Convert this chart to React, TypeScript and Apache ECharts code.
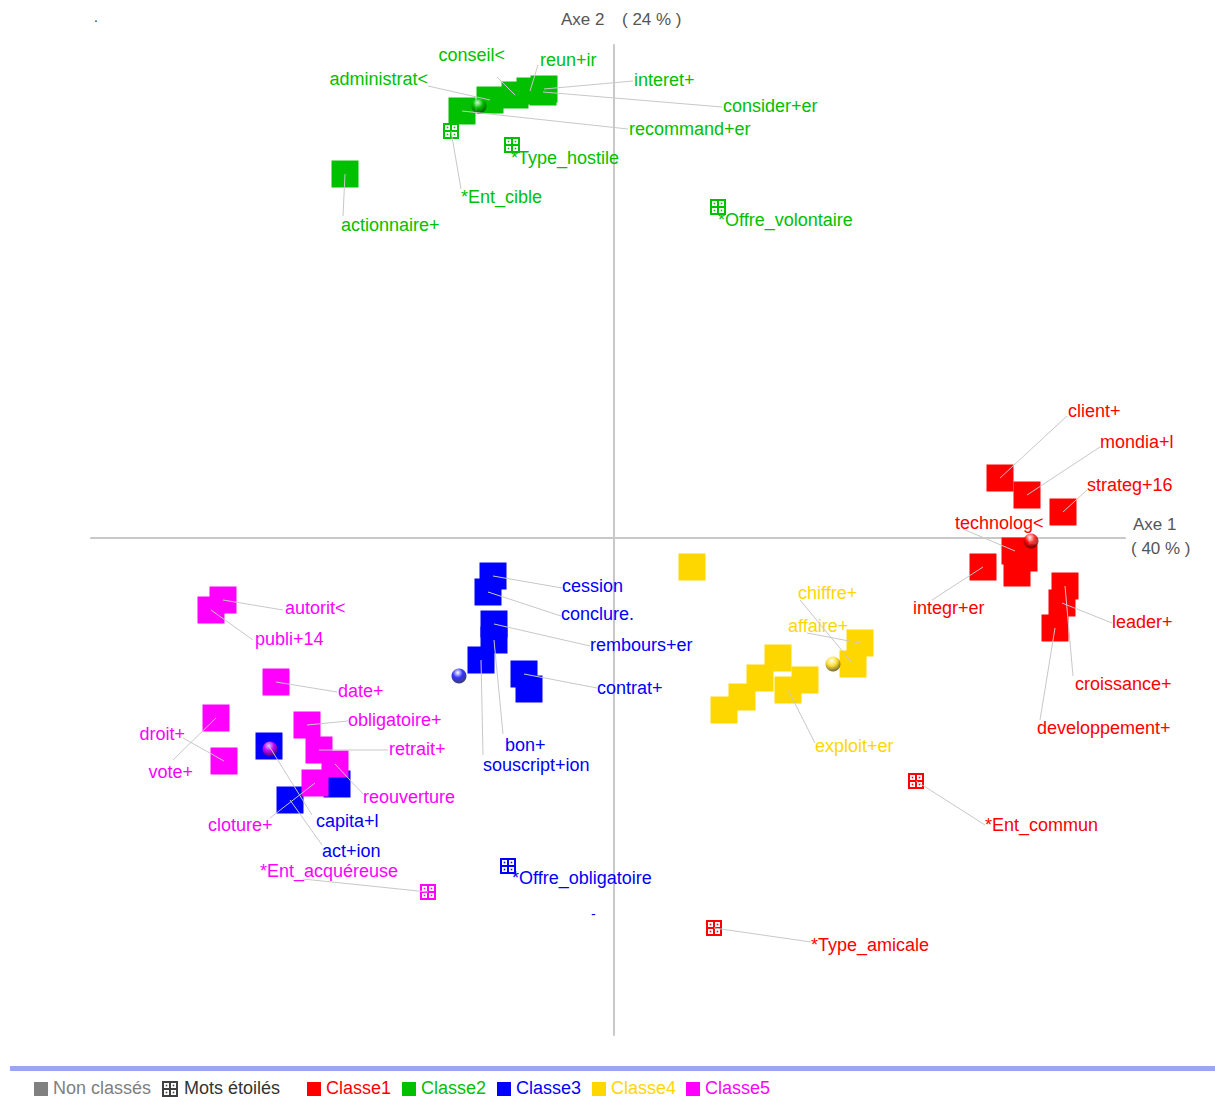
import React, { useEffect, useRef } from "react";
import * as echarts from "echarts";

type Word = [string, number, number];

// Factor coordinates (Axe 1, Axe 2)
const CLASS_NAMES = ["Classe1", "Classe2", "Classe3", "Classe4", "Classe5"];
const CLASS_COLORS = ["#FF0000", "#00C000", "#0000FF", "#FFD700", "#FF00FF"];

const classe1Words: Word[] = [
  ["client+", 3.86, 0.6],
  ["mondia+l", 4.13, 0.43],
  ["strateg+16", 4.49, 0.26],
  ["technolog<", 4.01, -0.13],
  ["", 4.1, -0.2],
  ["", 4.03, -0.35],
  ["integr+er", 3.69, -0.29],
  ["croissance+", 4.51, -0.48],
  ["leader+", 4.48, -0.65],
  ["developpement+", 4.41, -0.9],
];
const classe1Stars: Word[] = [
  ["*Ent_commun", 3.02, -2.43],
  ["*Type_amicale", 1.0, -3.9],
];

const classe2Words: Word[] = [
  ["recommand+er", -1.52, 4.27],
  ["administrat<", -1.24, 4.38],
  ["conseil<", -0.99, 4.43],
  ["reun+ir", -0.84, 4.47],
  ["consider+er", -0.71, 4.46],
  ["interet+", -0.7, 4.49],
  ["actionnaire+", -2.69, 3.64],
];
const classe2Stars: Word[] = [
  ["*Ent_cible", -1.63, 4.07],
  ["*Type_hostile", -1.02, 3.93],
  ["*Offre_volontaire", 1.04, 3.31],
];

const classe3Words: Word[] = [
  ["cession", -1.21, -0.38],
  ["conclure.", -1.26, -0.54],
  ["rembours+er", -1.2, -0.86],
  ["bon+", -1.2, -1.02],
  ["souscript+ion", -1.33, -1.22],
  ["contrat+", -0.9, -1.36],
  ["", -0.85, -1.51],
  ["capita+l", -3.45, -2.08],
  ["act+ion", -3.24, -2.62],
  ["", -2.77, -2.46],
];
const classe3Stars: Word[] = [["*Offre_obligatoire", -1.06, -3.28]];

const classe4Words: Word[] = [
  ["", 0.78, -0.29],
  ["affaire+", 2.46, -1.05],
  ["chiffre+", 2.39, -1.26],
  ["", 1.64, -1.2],
  ["", 1.46, -1.4],
  ["", 1.91, -1.42],
  ["exploit+er", 1.74, -1.52],
  ["", 1.28, -1.59],
  ["", 1.1, -1.72],
];
const classe4Stars: Word[] = [];

const classe5Words: Word[] = [
  ["autorit<", -3.91, -0.62],
  ["publi+14", -4.03, -0.72],
  ["date+", -3.38, -1.44],
  ["vote+", -3.98, -1.8],
  ["droit+", -3.9, -2.23],
  ["obligatoire+", -3.07, -1.87],
  ["retrait+", -2.95, -2.12],
  ["reouverture", -2.79, -2.26],
  ["cloture+", -2.99, -2.45],
];
const classe5Stars: Word[] = [["*Ent_acquéreuse", -1.86, -3.54]];

// class centroids (spheres)
const centroids: [number, number][] = [
  [4.17, -0.03],
  [-1.35, 4.32],
  [-1.55, -1.38],
  [2.19, -1.26],
  [-3.44, -2.11],
];

const axisTitles = { axe1: "Axe 1", axe1Pct: "( 40 % )", axe2: "Axe 2", axe2Pct: "( 24 % )" };
const legendLabels = ["Non classés", "Mots étoilés", ...CLASS_NAMES];

// ---- layout of labels (pixel offsets from the point) ----
type Lay = { t: [number, number]; a?: "left" | "right"; l?: [number, number] | null };
const LAYOUT: Record<string, Lay> = {
  "client+": { t: [68, -67], l: [67, -62] },
  "mondia+l": { t: [73, -53], l: [73, -48] },
  "strateg+16": { t: [24, -27], l: [24, -22] },
  "technolog<": { t: [-60, -28], l: [-52, -22] },
  "integr+er": { t: [-70, 41], l: [-51, 33] },
  "croissance+": { t: [10, 98], l: [8, 90] },
  "leader+": { t: [50, 19], l: [50, 20] },
  "developpement+": { t: [-18, 100], l: [-15, 92] },
  "*Ent_commun": { t: [69, 44], l: [69, 44] },
  "*Type_amicale": { t: [97, 17], l: [97, 14] },
  "recommand+er": { t: [167, 18], l: [166, 18] },
  "administrat<": { t: [-62, -21], a: "right", l: [-62, -14] },
  "conseil<": { t: [-10, -40], a: "right", l: [-18, -18] },
  "reun+ir": { t: [10, -31], l: [8, -26] },
  "consider+er": { t: [180, 14], l: [179, 15] },
  "interet+": { t: [90, -9], l: [89, -8] },
  "actionnaire+": { t: [-4, 51], l: [-2, 42] },
  "*Ent_cible": { t: [10, 66], l: [10, 58] },
  "*Type_hostile": { t: [-1, 13], l: null },
  "*Offre_volontaire": { t: [0, 13], l: null },
  cession: { t: [69, 10], l: [69, 12] },
  "conclure.": { t: [73, 22], l: [73, 24] },
  "rembours+er": { t: [96, 21], l: [96, 22] },
  "bon+": { t: [11, 105], l: [9, 94] },
  "souscript+ion": { t: [2, 105], l: [2, 95] },
  "contrat+": { t: [73, 14], l: [73, 14] },
  "capita+l": { t: [47, 75], l: [43, 69] },
  "act+ion": { t: [32, 51], l: [32, 45] },
  "*Offre_obligatoire": { t: [4, 12], l: null },
  "affaire+": { t: [-72, -17], l: [-53, -10] },
  "chiffre+": { t: [-55, -71], l: [-53, -64] },
  "exploit+er": { t: [27, 56], l: [27, 53] },
  "autorit<": { t: [62, 8], l: [60, 10] },
  "publi+14": { t: [44, 29], l: [42, 30] },
  "date+": { t: [62, 9], l: [61, 10] },
  "vote+": { t: [-23, 54], a: "right", l: [-43, 42] },
  "droit+": { t: [-39, -27], a: "right", l: [-41, -23] },
  "obligatoire+": { t: [41, -5], l: [41, -4] },
  "retrait+": { t: [70, -1], l: [69, 0] },
  reouverture: { t: [28, 33], l: [28, 30] },
  "cloture+": { t: [-107, 42], l: [-45, 35] },
  "*Ent_acquéreuse": { t: [-168, -21], l: [-125, -13] },
};

const FONT = '18px "Liberation Sans", Arial, sans-serif';
const AXIS_FONT = '17px "Liberation Sans", Arial, sans-serif';
const LINE_COLOR = "#C8C8C8";

const wordsByClass = [classe1Words, classe2Words, classe3Words, classe4Words, classe5Words];
const starsByClass = [classe1Stars, classe2Stars, classe3Stars, classe4Stars, classe5Stars];

type Item = { name: string; x: number; y: number; cls: number; star: boolean };
const allItems: Item[] = [];
wordsByClass.forEach((ws, c) => ws.forEach((w) => allItems.push({ name: w[0], x: w[1], y: w[2], cls: c, star: false })));
starsByClass.forEach((ws, c) => ws.forEach((w) => allItems.push({ name: w[0], x: w[1], y: w[2], cls: c, star: true })));
const allStars = allItems.filter((i) => i.star);
const labeled = allItems.filter((i) => i.name && LAYOUT[i.name]);

function starChildren(cx: number, cy: number, color: string): any[] {
  const x0 = cx - 8;
  const y0 = cy - 8;
  const c: any[] = [{ type: "rect", shape: { x: x0, y: y0, width: 16, height: 16 }, style: { fill: color } }];
  const q = [
    [2, 2],
    [9, 2],
    [2, 9],
    [9, 9],
  ];
  q.forEach(([dx, dy]) => {
    c.push({ type: "rect", shape: { x: x0 + dx, y: y0 + dy, width: 5, height: 5 }, style: { fill: "#ffffff" } });
    c.push({ type: "rect", shape: { x: x0 + dx + 1.7, y: y0 + dy + 1.7, width: 1.6, height: 1.6 }, style: { fill: color } });
  });
  return c;
}

function buildOption(): any {
  const series: any[] = [];
  wordsByClass.forEach((ws, c) => {
    series.push({
      type: "scatter",
      name: CLASS_NAMES[c],
      symbol: "rect",
      symbolSize: 27,
      data: ws.map((w) => [w[1], w[2]]),
      itemStyle: { color: CLASS_COLORS[c], opacity: 1 },
      emphasis: { disabled: true },
      z: 3,
    });
  });
  series.push({
    type: "custom",
    name: "stars",
    coordinateSystem: "cartesian2d",
    encode: { x: 0, y: 1 },
    clip: false,
    z: 4,
    data: allStars.map((s) => [s.x, s.y]),
    renderItem: (params: any, api: any) => {
      const it = allStars[params.dataIndex];
      const p = api.coord([api.value(0), api.value(1)]);
      return { type: "group", children: starChildren(Math.round(p[0]), Math.round(p[1]), CLASS_COLORS[it.cls]) };
    },
  });
  series.push({
    type: "scatter",
    name: "centroids",
    symbol: "circle",
    symbolSize: 15,
    z: 5,
    emphasis: { disabled: true },
    data: centroids.map((c, i) => ({
      value: c,
      itemStyle: {
        color: {
          type: "radial",
          x: 0.42,
          y: 0.28,
          r: 0.85,
          colorStops: [
            { offset: 0, color: "#ffffff" },
            { offset: 0.4, color: CLASS_COLORS[i] },
            { offset: 1, color: "#111111" },
          ],
        },
      },
    })),
  });
  series.push({
    type: "custom",
    name: "leaders",
    coordinateSystem: "cartesian2d",
    encode: { x: 0, y: 1 },
    clip: false,
    z: 6,
    data: labeled.map((s) => [s.x, s.y]),
    renderItem: (params: any, api: any) => {
      const it = labeled[params.dataIndex];
      const lay = LAYOUT[it.name];
      const p = api.coord([api.value(0), api.value(1)]);
      const children: any[] = [];
      if (lay.l) {
        children.push({
          type: "line",
          shape: { x1: p[0], y1: p[1], x2: p[0] + lay.l[0], y2: p[1] + lay.l[1] },
          style: { stroke: LINE_COLOR, lineWidth: 1 },
        });
      }
      children.push({
        type: "text",
        x: p[0] + lay.t[0],
        y: p[1] + lay.t[1],
        style: {
          text: it.name,
          fill: CLASS_COLORS[it.cls],
          font: FONT,
          align: lay.a || "left",
          verticalAlign: "middle",
        },
      });
      return { type: "group", children };
    },
  });

  const legendY = 1088;
  const sq = (x: number, color: string) => ({
    type: "rect",
    shape: { x, y: legendY - 6, width: 14, height: 14 },
    style: { fill: color },
  });
  const lt = (x: number, text: string, color: string) => ({
    type: "text",
    x,
    y: legendY,
    style: { text, fill: color, font: FONT, lineHeight: 16, verticalAlign: "middle" },
  });
  const classLegendX = [307, 402, 497, 592, 686];
  const graphic: any[] = [
    { type: "rect", shape: { x: 10, y: 1066, width: 1205, height: 5 }, style: { fill: "#9AA6F4" } },
    sq(34, "#808080"),
    lt(53, legendLabels[0], "#808080"),
    { type: "group", children: starChildren(170, legendY + 1, "#404040") },
    lt(184, legendLabels[1], "#333333"),
    ...classLegendX.flatMap((x, i) => [sq(x, CLASS_COLORS[i]), lt(x + 19, legendLabels[2 + i], CLASS_COLORS[i])]),
    { type: "text", x: 561, y: 19, style: { text: axisTitles.axe2, fill: "#555555", font: AXIS_FONT, verticalAlign: "middle" } },
    { type: "text", x: 622, y: 19, style: { text: axisTitles.axe2Pct, fill: "#555555", font: AXIS_FONT, verticalAlign: "middle" } },
    { type: "text", x: 1133, y: 524, style: { text: axisTitles.axe1, fill: "#555555", font: AXIS_FONT, verticalAlign: "middle" } },
    { type: "text", x: 1131, y: 548, style: { text: axisTitles.axe1Pct, fill: "#555555", font: AXIS_FONT, verticalAlign: "middle" } },
    { type: "text", x: 94, y: 17, style: { text: ".", fill: "#333333", font: '14px "Liberation Sans"', verticalAlign: "middle" } },
    { type: "text", x: 591, y: 914, style: { text: "-", fill: "#0000FF", font: '14px "Liberation Sans"', verticalAlign: "middle" } },
  ];

  return {
    animation: false,
    backgroundColor: "#ffffff",
    grid: { left: 91, right: 90, top: 45, bottom: 62 },
    xAxis: {
      type: "value",
      min: -5.23,
      max: 5.11,
      axisLine: { show: true, onZero: true, lineStyle: { color: LINE_COLOR, width: 2 } },
      axisTick: { show: false },
      axisLabel: { show: false },
      splitLine: { show: false },
    },
    yAxis: {
      type: "value",
      min: -4.97,
      max: 4.93,
      axisLine: { show: true, onZero: true, lineStyle: { color: LINE_COLOR, width: 2 } },
      axisTick: { show: false },
      axisLabel: { show: false },
      splitLine: { show: false },
    },
    series,
    graphic,
  };
}

export default function App() {
  const ref = useRef<HTMLDivElement>(null);
  useEffect(() => {
    document.body.style.margin = "0";
    document.body.style.overflow = "hidden";
    const chart = echarts.init(ref.current!, null, { renderer: "svg" });
    chart.setOption(buildOption());
    return () => chart.dispose();
  }, []);
  return <div ref={ref} style={{ width: 1215, height: 1097 }} />;
}
